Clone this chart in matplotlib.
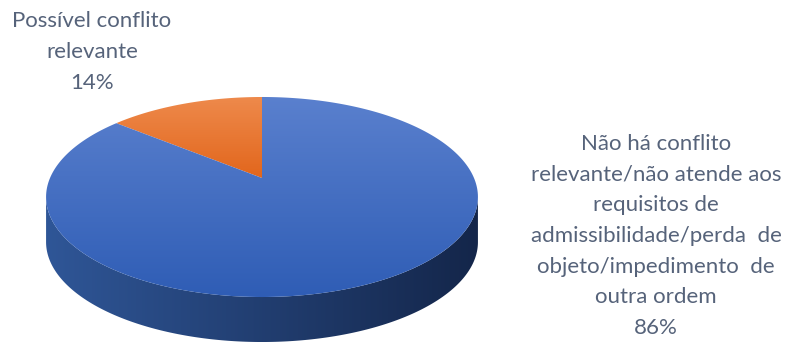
import numpy as np
import matplotlib.pyplot as plt
from matplotlib.path import Path
from matplotlib.patches import PathPatch
from matplotlib.colors import LinearSegmentedColormap

categories = [
    "Possível conflito\nrelevante",
    "Não há conflito\nrelevante/não atende aos\nrequisitos de\n"
    "admissibilidade/perda  de\nobjeto/impedimento  de\noutra ordem",
]
values = [14, 86]

# projected disk: screen = (X0 + A*u/w, Y0 - B*v/w), w = 1 + k*v
X0, Y0 = 262, 178
A, B, k = 212, 96.4, 0.19
depth = 45

W, H = 791, 344
fig = plt.figure(figsize=(W / 100, H / 100), dpi=100)
ax = fig.add_axes([0, 0, 1, 1])
ax.set_xlim(0, W)
ax.set_ylim(H, 0)
ax.axis('off')


def rim(t, dy=0):
    u, v = np.cos(t), np.sin(t)
    w = 1 + k * v
    return np.column_stack([X0 + A * u / w, Y0 - B * v / w + dy])


def gradient_fill(path, c0, c1, horizontal=False, zorder=1):
    cmap = LinearSegmentedColormap.from_list('g', [c0, c1])
    verts = path.vertices
    x0, y0 = verts.min(axis=0)
    x1, y1 = verts.max(axis=0)
    grad = np.linspace(0, 1, 256)
    img = grad[None, :] if horizontal else grad[:, None]
    im = ax.imshow(img, cmap=cmap, extent=(x0, x1, y1, y0),
                   aspect='auto', zorder=zorder, interpolation='bilinear')
    patch = PathPatch(path, facecolor='none', edgecolor='none')
    ax.add_patch(patch)
    im.set_clip_path(patch)


# side wall between the two silhouette points
ta = np.pi + np.arcsin(k)
tb = 2 * np.pi - np.arcsin(k)
t = np.linspace(ta, tb, 240)
side = np.vstack([rim(t), rim(t[::-1], depth)])
gradient_fill(Path(np.vstack([side, side[:1]]), closed=True),
              '#2F5697', '#14264A', horizontal=True, zorder=1)

# top face wedges, first slice starts at 12 o'clock going counterclockwise
face_colors = [('#EE8A4C', '#E2661C'), ('#5A80CE', '#2F5DB5')]
start = np.pi / 2
total = sum(values)
for v, (c0, c1) in zip(values, face_colors):
    sweep = 2 * np.pi * v / total
    tt = np.linspace(start, start + sweep, 240)
    pts = np.vstack([[X0, Y0], rim(tt), [X0, Y0]])
    gradient_fill(Path(pts, closed=True), c0, c1, zorder=2)
    start += sweep

text_kw = dict(color='#56637A', fontsize=16, family=['Lato', 'DejaVu Sans'],
               ha='center', va='center', linespacing=1.66)
ax.text(92, 52, f"{categories[0]}\n{values[0]}%", **text_kw)
ax.text(656, 236, f"{categories[1]}\n{values[1]}%", **text_kw)

fig.savefig('out.png', dpi=100)
